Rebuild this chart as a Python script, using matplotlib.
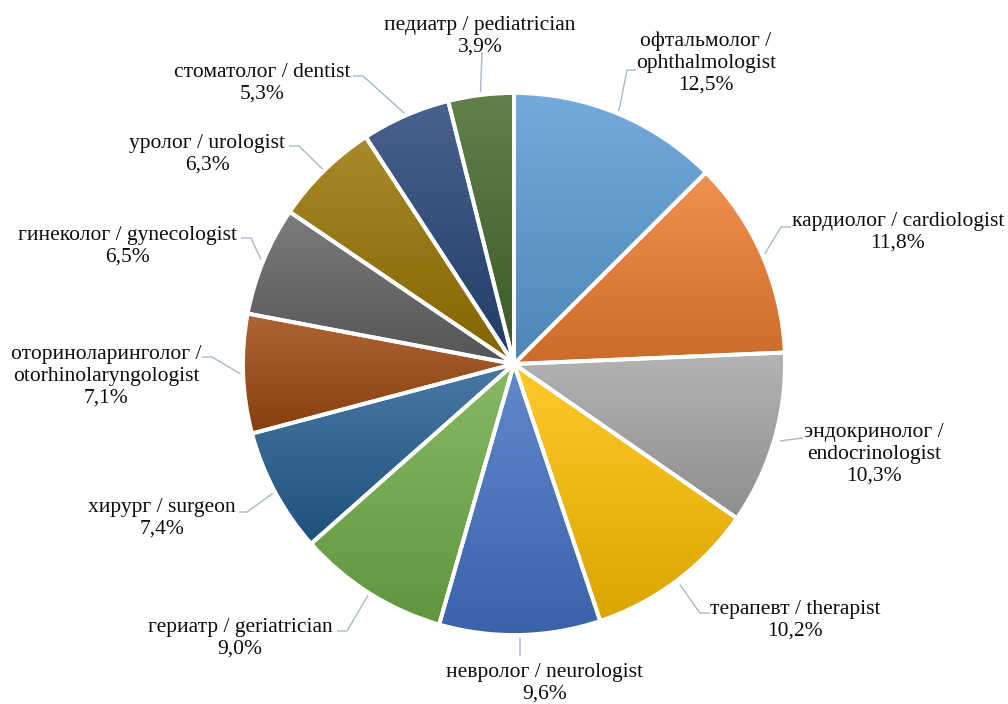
import numpy as np
import matplotlib
matplotlib.use('Agg')
import matplotlib.pyplot as plt
from matplotlib.colors import to_rgb

# Share of respondents by physician specialty
specialties = ['офтальмолог /\nophthalmologist', 'кардиолог / cardiologist',
               'эндокринолог /\nendocrinologist', 'терапевт / therapist',
               'невролог / neurologist', 'гериатр / geriatrician',
               'хирург / surgeon', 'оториноларинголог /\notorhinolaryngologist',
               'гинеколог / gynecologist', 'уролог / urologist',
               'стоматолог / dentist', 'педиатр / pediatrician']
shares = [12.5, 11.8, 10.3, 10.2, 9.6, 9.0, 7.4, 7.1, 6.5, 6.3, 5.3, 3.9]

colors = ['#5B9BD5', '#ED7D31', '#A5A5A5', '#FFC000', '#4472C4', '#70AD47',
          '#255E91', '#9E480E', '#636363', '#997300', '#264478', '#43682B']
explode = [0.01, 0.01, 0.022, 0.018, 0.01, 0.01, 0.01, 0.01, 0.01, 0.01, 0.01, 0.01]

W, H = 1008, 704
def px(x, y):
    return x, H - y

# label anchor (text centre) and leader elbow, in pixel coordinates
label_pos = [(706, 63), (898, 232), (874, 454), (795, 620), (545, 683), (240, 638),
             (162, 518), (106, 376), (128, 246), (207, 154), (262, 83), (480, 36)]
elbows = [(627, 70), (781, 227), (803, 438), (700, 613), (520, 656), (347, 631),
          (247, 512), (212, 357), (251, 238), (299, 146), (363, 76), (482, 52)]
line_ends = [(636, 70), (791, 227), (803, 438), (710, 613), (520, 656), (337, 631),
             (239, 512), (202, 357), (241, 238), (289, 146), (353, 76), (482, 52)]

fig = plt.figure(figsize=(10.08, 7.04), dpi=100)
ax = fig.add_axes([0, 0, 1, 1])

cx, cy = px(514, 364)
R = 271
wedges, _ = ax.pie(shares, startangle=90, counterclock=False, radius=R,
                   center=(cx, cy), explode=explode, frame=True,
                   wedgeprops=dict(facecolor='none', edgecolor='white', linewidth=2.8))
ax.set_aspect('auto')

# vertical gradient fill, lighter at the top of each slice
for w, c in zip(wedges, colors):
    base = np.array(to_rgb(c))
    top = base + (1 - base) * 0.16
    bottom = base * 0.86
    t = np.linspace(0, 1, 256)[:, None]
    grad = (bottom + (top - bottom) * t)[:, None, :]
    verts = w.get_path().vertices
    x0, y0 = verts.min(axis=0)
    x1, y1 = verts.max(axis=0)
    im = ax.imshow(grad, extent=[x0, x1, y0, y1], origin='lower',
                   aspect='auto', interpolation='bilinear', zorder=1)
    im.set_clip_path(w)
    w.set_zorder(2)

# data labels with leader lines
leader = '#A9B8CC'
total = sum(shares)
for i, (name, v) in enumerate(zip(specialties, shares)):
    mid = np.deg2rad(90 - 360 * (sum(shares[:i]) + v / 2) / total)
    sx = cx + (R + explode[i] * R) * np.cos(mid)
    sy = cy + (R + explode[i] * R) * np.sin(mid)
    ex, ey = px(*elbows[i])
    lx, ly = px(*line_ends[i])
    ax.plot([sx, ex, lx], [sy, ey, ly], color=leader, lw=1, zorder=0,
            solid_capstyle='butt')
    tx, ty = px(*label_pos[i])
    pct = f'{v:.1f}'.replace('.', ',') + '%'
    ax.text(tx, ty, f'{name}\n{pct}', ha='center', va='center',
            family='Liberation Serif', fontsize=15.5, color='#0d0d0d',
            linespacing=1.2)

ax.set_xlim(0, W)
ax.set_ylim(0, H)
ax.axis('off')
fig.savefig('out.png', dpi=100)
